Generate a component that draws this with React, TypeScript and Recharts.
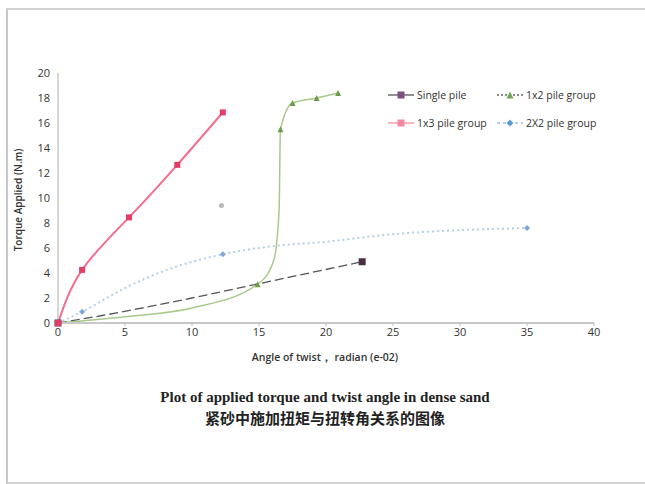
import React from "react";
import { ComposedChart, Line, XAxis, YAxis } from "recharts";

// Angle of twist (e-02 rad) vs torque (N.m)
const singleX = [0, 3.3, 10, 14.8, 22.7];
const singleY = [0, 0.6, 2.0, 3.1, 4.9];

const g12X = [0, 5, 10, 14.9, 16.1, 16.5, 16.6, 17.5, 19.3, 20.9];
const g12Y = [0, 0.5, 1.2, 3.1, 5.0, 9.0, 15.5, 17.6, 18.0, 18.4];
const g12Marks = [0, 3, 6, 7, 8, 9];

const g13X = [0, 1.8, 5.3, 8.9, 12.3];
const g13Y = [0, 4.25, 8.45, 12.65, 16.85];

const g22X = [0, 1.8, 5, 8, 12.3, 16.5, 20, 24, 35];
const g22Y = [0, 0.9, 2.8, 4.2, 5.5, 6.2, 6.5, 7.0, 7.6];
const g22Marks = [0, 1, 4, 8];

const strayX = [12.2];
const strayY = [9.4];

const xTicks = [0, 5, 10, 15, 20, 25, 30, 35, 40];
const yTicks = [0, 2, 4, 6, 8, 10, 12, 14, 16, 18, 20];

const toPoints = (xs: number[], ys: number[]) =>
  xs.map((x, i) => ({ x, y: ys[i] }));

const makeDot =
  (shape: string, fill: string, marks: number[] | null, size: number) =>
  (props: any) => {
    const { cx, cy, index } = props;
    if (cx == null || cy == null || (marks && !marks.includes(index))) {
      return <g key={`d-${index}`} />;
    }
    const h = size / 2;
    if (shape === "square")
      return (
        <rect key={`d-${index}`} x={cx - h} y={cy - h} width={size} height={size} fill={fill} />
      );
    if (shape === "triangle")
      return (
        <path
          key={`d-${index}`}
          d={`M${cx},${cy - h} L${cx + h},${cy + h} L${cx - h},${cy + h} Z`}
          fill={fill}
        />
      );
    if (shape === "diamond")
      return (
        <path
          key={`d-${index}`}
          d={`M${cx},${cy - h} L${cx + h},${cy} L${cx},${cy + h} L${cx - h},${cy} Z`}
          fill={fill}
        />
      );
    return <circle key={`d-${index}`} cx={cx} cy={cy} r={h} fill={fill} />;
  };

const legendItems = [
  { name: "Single pile", stroke: "#555", dash: "", mark: "square", fill: "#7b4f7e", left: 388, top: 88 },
  { name: "1x2 pile group", stroke: "#666", dash: "2 2", mark: "triangle", fill: "#6aa84f", left: 497, top: 88 },
  { name: "1x3 pile group", stroke: "#f48aa2", dash: "", mark: "square", fill: "#f48aa2", left: 388, top: 116 },
  { name: "2X2 pile group", stroke: "#9cc0e0", dash: "3 3", mark: "diamond", fill: "#5b9bd5", left: 497, top: 116 },
];

const LegendIcon = ({ item }: { item: (typeof legendItems)[number] }) => (
  <svg width={26} height={10} style={{ marginRight: 3 }}>
    <line x1={0} y1={5} x2={26} y2={5} stroke={item.stroke} strokeWidth={1.3} strokeDasharray={item.dash} />
    {makeDot(item.mark, item.fill, null, 7)({ cx: 13, cy: 5, index: 0 })}
  </svg>
);

export default function App() {
  return (
    <div
      style={{
        position: "absolute",
        left: 0,
        top: 0,
        width: 645,
        height: 484,
        background: "#fff",
        overflow: "hidden",
      }}
    >
      {/* scanned page frame */}
      <div style={{ position: "absolute", left: 6, top: 8, width: 660, height: 472, borderLeft: "2px solid #c8c8c8", borderTop: "2px solid #d2d2d2", borderBottom: "2px solid #d0d0d0" }} />
      <ComposedChart
        width={645}
        height={484}
        margin={{ top: 73, right: 51, bottom: 131, left: 18 }}
        style={{ position: "absolute", left: 0, top: 0 }}
      >
        <XAxis
          type="number"
          dataKey="x"
          domain={[0, 40]}
          ticks={xTicks}
          interval={0}
          height={30}
          axisLine={{ stroke: "#c8c8c8", strokeWidth: 2 }}
          tickLine={{ stroke: "#bbb" }}
          tickSize={3}
          tick={{ fontSize: 11, fill: "#333", fontFamily: "Open Sans" }}
        />
        <YAxis
          type="number"
          dataKey="y"
          domain={[0, 20]}
          ticks={yTicks}
          interval={0}
          width={40}
          axisLine={{ stroke: "#c8c8c8", strokeWidth: 1.5 }}
          tickLine={false}
          tick={{ fontSize: 11, fill: "#333", fontFamily: "Open Sans" }}
        />
        <Line
          data={toPoints(g22X, g22Y)}
          dataKey="y"
          type="monotone"
          stroke="#b4cfe4"
          strokeWidth={2}
          strokeDasharray="2 3"
          dot={makeDot("diamond", "#7fa6d8", g22Marks, 6)}
          isAnimationActive={false}
        />
        <Line
          data={toPoints(singleX, singleY)}
          dataKey="y"
          type="monotone"
          stroke="#555"
          strokeWidth={1.3}
          strokeDasharray="9 4"
          dot={makeDot("square", "#4a2f40", [0, 4], 7)}
          isAnimationActive={false}
        />
        <Line
          data={toPoints(g12X, g12Y)}
          dataKey="y"
          type="monotone"
          stroke="#a9c98a"
          strokeWidth={1.5}
          dot={makeDot("triangle", "#6f9a4a", g12Marks, 6)}
          isAnimationActive={false}
        />
        <Line
          data={toPoints(g13X, g13Y)}
          dataKey="y"
          type="natural"
          stroke="#f26d8e"
          strokeWidth={2}
          dot={makeDot("square", "#e33d66", null, 6)}
          isAnimationActive={false}
        />
        <Line
          data={toPoints(strayX, strayY)}
          dataKey="y"
          stroke="none"
          dot={makeDot("circle", "#b8b8b8", null, 5)}
          isAnimationActive={false}
        />
      </ComposedChart>

      {/* axis titles */}
      <div
        style={{
          position: "absolute",
          left: 18,
          top: 200,
          transform: "translate(-50%, -50%) rotate(-90deg)",
          fontFamily: "Open Sans",
          fontSize: 10,
          fontWeight: 600,
          color: "#333",
          whiteSpace: "nowrap",
        }}
      >
        Torque Applied (N.m)
      </div>
      <div
        style={{
          position: "absolute",
          left: 325,
          top: 350,
          transform: "translateX(-50%)",
          fontFamily: "Open Sans",
          fontSize: 10.5,
          fontWeight: 600,
          color: "#333",
          whiteSpace: "nowrap",
        }}
      >
        Angle of twist， radian (e-02)
      </div>

      {/* legend */}
      {legendItems.map((item) => (
        <div
          key={item.name}
          style={{
            position: "absolute",
            left: item.left,
            top: item.top,
            display: "flex",
            alignItems: "center",
            fontFamily: "Open Sans",
            fontSize: 10.5,
            color: "#333",
            whiteSpace: "nowrap",
          }}
        >
          <LegendIcon item={item} />
          {item.name}
        </div>
      ))}

      {/* captions */}
      <div
        style={{
          position: "absolute",
          left: 325,
          top: 389,
          transform: "translateX(-50%)",
          fontFamily: "Liberation Serif",
          fontSize: 15,
          fontWeight: 700,
          color: "#222",
          whiteSpace: "nowrap",
        }}
      >
        Plot of applied torque and twist angle in dense sand
      </div>
      <div
        style={{
          position: "absolute",
          left: 325,
          top: 407,
          transform: "translateX(-50%)",
          fontFamily: "Noto Sans CJK SC",
          fontSize: 15,
          fontWeight: 700,
          color: "#222",
          whiteSpace: "nowrap",
        }}
      >
        紧砂中施加扭矩与扭转角关系的图像
      </div>
    </div>
  );
}
